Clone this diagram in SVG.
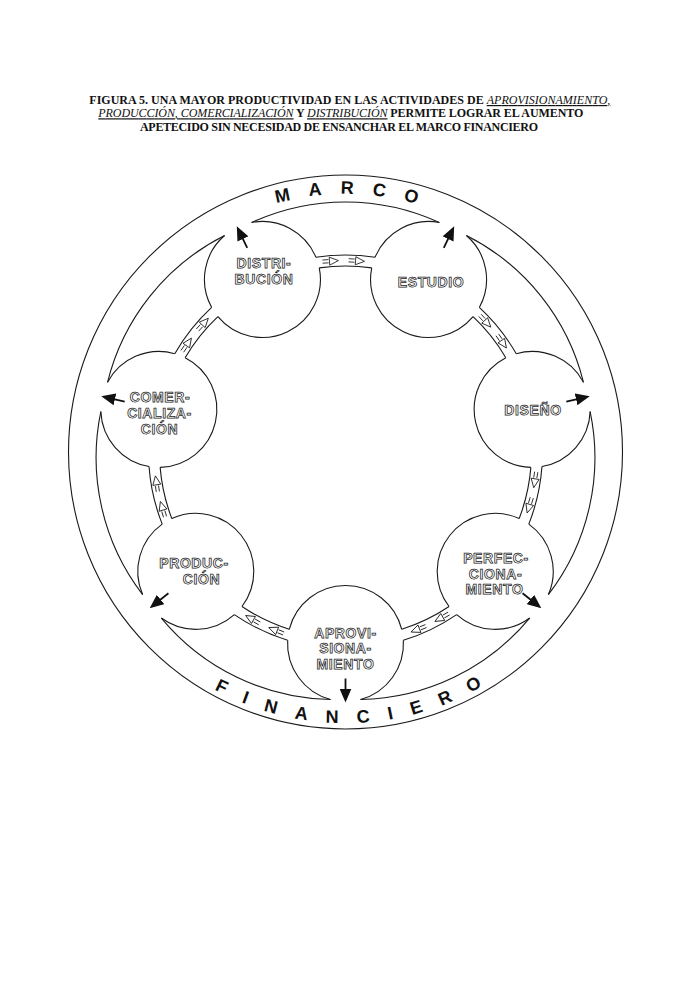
<svg xmlns="http://www.w3.org/2000/svg" width="690" height="1005" viewBox="0 0 690 1005">
<style>
.ln{fill:none;stroke:#1a1a1a;stroke-width:1.1}
.ttl{font-family:"Liberation Serif","Times New Roman",serif;font-weight:bold;font-size:12px;fill:#111}
.it{font-style:italic;font-weight:normal;text-decoration:underline}
.lbl{font-family:"Liberation Sans",Arial,sans-serif;font-weight:bold;font-size:14px;fill:#fff;stroke:#222;stroke-width:0.75px;letter-spacing:0.6px;text-anchor:middle}
.band{font-family:"Liberation Sans",Arial,sans-serif;font-weight:bold;font-size:18px;fill:#111}
.arr{stroke:#111;stroke-width:1.8;fill:none}
.fa{fill:#fff;stroke:#111;stroke-width:0.8}
</style>
<defs>
<marker id="ah" markerUnits="userSpaceOnUse" markerWidth="14" markerHeight="12" refX="8" refY="6" orient="auto"><path d="M0,0 L14,6 L0,12 Z" fill="#111"/></marker>
<g id="node">
<path class="ln" d="M247.52,15.01 A58,58 0 0 1 188.30,57.86 M177.30,56.24 A58,58 0 0 1 177.30,-56.24 M188.30,-57.86 A58,58 0 0 1 247.52,-15.01"/>
<line class="arr" x1="226.5" y1="0" x2="244.5" y2="0" marker-end="url(#ah)"/>
</g>
<path id="bandarc" class="ln" d="M247.52,15.01 A225,225 0 0 1 166.07,184.16"/>
<g id="fa"><path d="M-10,-1.6 H-4 M-10,1.6 H-4" stroke="#111" stroke-width="0.8" fill="none"/><path class="fa" d="M-3,-4 L6,0 L-3,4 Z"/></g>
<g id="pipe">
<path class="ln" d="M188.30,57.86 A197,197 0 0 1 162.65,111.15 M177.30,56.24 A186,186 0 0 1 154.53,103.53"/>
<use href="#fa" transform="translate(177.79 71.15) rotate(111.81)"/>
<use href="#fa" transform="translate(166.48 94.65) rotate(119.62)"/>
</g>
<path id="ptop" d="M122.07,323 A258,258 0 0 1 568.93,323"/>
<path id="pbot" d="M110.81,587.5 A271,271 0 0 0 580.19,587.5"/>
</defs>

<g id="title">
<text class="ttl" x="89.3" y="104" textLength="521">FIGURA 5. UNA MAYOR PRODUCTIVIDAD EN LAS ACTIVIDADES DE <tspan class="it">APROVISIONAMIENTO,</tspan></text>
<text class="ttl" x="98.3" y="117.3" textLength="485"><tspan class="it">PRODUCCIÓN, COMERCIALIZACIÓN</tspan> Y <tspan class="it">DISTRIBUCIÓN</tspan> PERMITE LOGRAR EL AUMENTO</text>
<text class="ttl" x="140" y="131" textLength="398">APETECIDO SIN NECESIDAD DE ENSANCHAR EL MARCO FINANCIERO</text>
</g>

<g id="marco-financiero">
<circle class="ln" cx="345.5" cy="452" r="277"/>
<use href="#bandarc" transform="translate(345.5 452) rotate(90)"/>
<use href="#bandarc" transform="translate(345.5 452) rotate(141.429)"/>
<use href="#bandarc" transform="translate(345.5 452) rotate(192.857)"/>
<use href="#bandarc" transform="translate(345.5 452) rotate(244.286)"/>
<use href="#bandarc" transform="translate(345.5 452) rotate(295.714)"/>
<use href="#bandarc" transform="translate(345.5 452) rotate(347.143)"/>
<use href="#bandarc" transform="translate(345.5 452) rotate(38.571)"/>
<text class="band" letter-spacing="18.5"><textPath href="#ptop" startOffset="200">MARCO</textPath></text>
<text class="band" letter-spacing="18.7"><textPath href="#pbot" startOffset="147">FINANCIERO</textPath></text>
</g>

<g id="connectors">
<use href="#pipe" transform="translate(345.5 452) rotate(90)"/>
<use href="#pipe" transform="translate(345.5 452) rotate(141.429)"/>
<use href="#pipe" transform="translate(345.5 452) rotate(192.857)"/>
<use href="#pipe" transform="translate(345.5 452) rotate(244.286)"/>
<use href="#pipe" transform="translate(345.5 452) rotate(295.714)"/>
<use href="#pipe" transform="translate(345.5 452) rotate(347.143)"/>
<use href="#pipe" transform="translate(345.5 452) rotate(38.571)"/>
</g>

<g id="n-aprovisionamiento">
<use href="#node" transform="translate(345.5 452) rotate(90)"/>
<text class="lbl"><tspan x="345.5" y="637.5">APROVI-</tspan><tspan x="345.5" y="653">SIONA-</tspan><tspan x="345.5" y="668.5">MIENTO</tspan></text>
</g>
<g id="n-produccion">
<use href="#node" transform="translate(345.5 452) rotate(141.429)"/>
<text class="lbl"><tspan x="194" y="568">PRODUC-</tspan><tspan x="201.5" y="584">CIÓN</tspan></text>
</g>
<g id="n-comercializacion">
<use href="#node" transform="translate(345.5 452) rotate(192.857)"/>
<text class="lbl"><tspan x="160" y="402">COMER-</tspan><tspan x="159.5" y="418">CIALIZA-</tspan><tspan x="159.5" y="433.5">CIÓN</tspan></text>
</g>
<g id="n-distribucion">
<use href="#node" transform="translate(345.5 452) rotate(244.286)"/>
<text class="lbl"><tspan x="264" y="267.5">DISTRI-</tspan><tspan x="264" y="283.5">BUCIÓN</tspan></text>
</g>
<g id="n-estudio">
<use href="#node" transform="translate(345.5 452) rotate(295.714)"/>
<text class="lbl" x="431" y="286.5">ESTUDIO</text>
</g>
<g id="n-diseno">
<use href="#node" transform="translate(345.5 452) rotate(347.143)"/>
<text class="lbl" x="533" y="414.5">DISEÑO</text>
</g>
<g id="n-perfeccionamiento">
<use href="#node" transform="translate(345.5 452) rotate(38.571)"/>
<text class="lbl"><tspan x="496" y="563">PERFEC-</tspan><tspan x="495.5" y="578.5">CIONA-</tspan><tspan x="494.5" y="594">MIENTO</tspan></text>
</g>
</svg>
